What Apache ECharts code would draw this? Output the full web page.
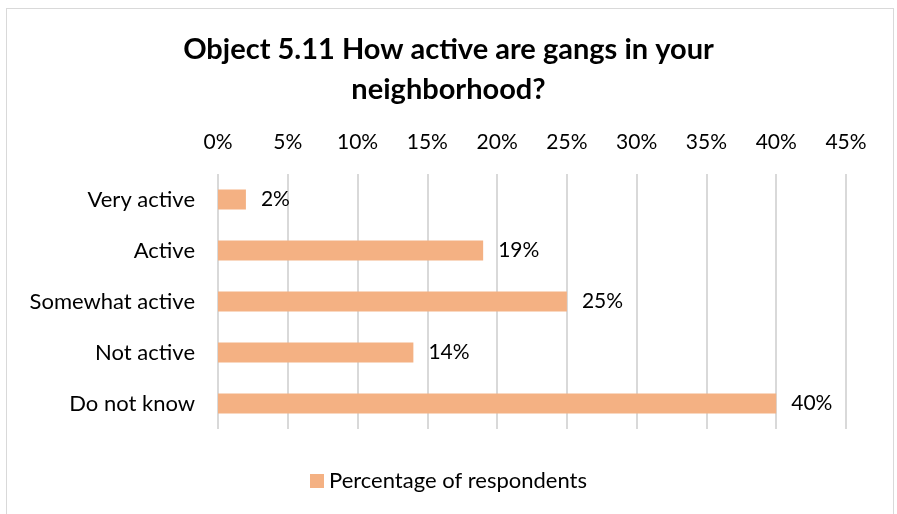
<!DOCTYPE html>
<html>
<head>
<meta charset="utf-8">
<script src="https://cdn.jsdelivr.net/npm/echarts@6/dist/echarts.min.js"></script>
<style>
  html, body { margin: 0; padding: 0; background: #fff; }
  #frame { position: absolute; left: 6px; top: 8px; width: 888px; height: 520px; border: 1px solid #d9d9d9; box-sizing: border-box; }
  #chart { position: absolute; left: 0; top: 0; width: 897px; height: 514px; }
</style>
</head>
<body>
<div id="frame"></div>
<div id="chart"></div>
<script>
const categories = ['Very active', 'Active', 'Somewhat active', 'Not active', 'Do not know'];
const percentages = [2, 19, 25, 14, 40];
const seriesName = 'Percentage of respondents';
const titleText = 'Object 5.11 How active are gangs in your\nneighborhood?';

const chart = echarts.init(document.getElementById('chart'), null, { renderer: 'canvas' });
const font = 'Lato, "Open Sans", sans-serif';

chart.setOption({
  animation: false,
  title: {
    text: titleText,
    left: 'center',
    top: 25,
    textStyle: { fontFamily: font, fontWeight: 'bold', fontSize: 29, lineHeight: 40, color: '#000' }
  },
  legend: {
    bottom: 17,
    left: 'center',
    itemWidth: 14,
    itemHeight: 14,
    itemGap: 6,
    icon: 'rect',
    textStyle: { fontFamily: font, fontSize: 22, color: '#000' },
    data: [seriesName]
  },
  grid: { left: 218, right: 51, top: 174, height: 255, containLabel: false },
  xAxis: {
    type: 'value',
    position: 'top',
    min: 0,
    max: 45,
    interval: 5,
    axisLine: { show: false },
    axisTick: { show: false },
    axisLabel: { formatter: '{value}%', fontFamily: font, fontSize: 21, color: '#000', margin: 21 },
    splitLine: { show: true, lineStyle: { color: '#d9d9d9', width: 2 } }
  },
  yAxis: {
    type: 'category',
    inverse: true,
    data: categories,
    axisLine: { show: false },
    axisTick: { show: false },
    axisLabel: { fontFamily: font, fontSize: 22, color: '#000', margin: 23 }
  },
  series: [{
    name: seriesName,
    type: 'bar',
    data: percentages,
    barWidth: 20,
    itemStyle: { color: '#F4B183' },
    label: {
      show: true,
      position: 'right',
      distance: 15,
      formatter: '{c}%',
      fontFamily: font,
      fontSize: 21,
      color: '#000'
    }
  }]
});
</script>
</body>
</html>
